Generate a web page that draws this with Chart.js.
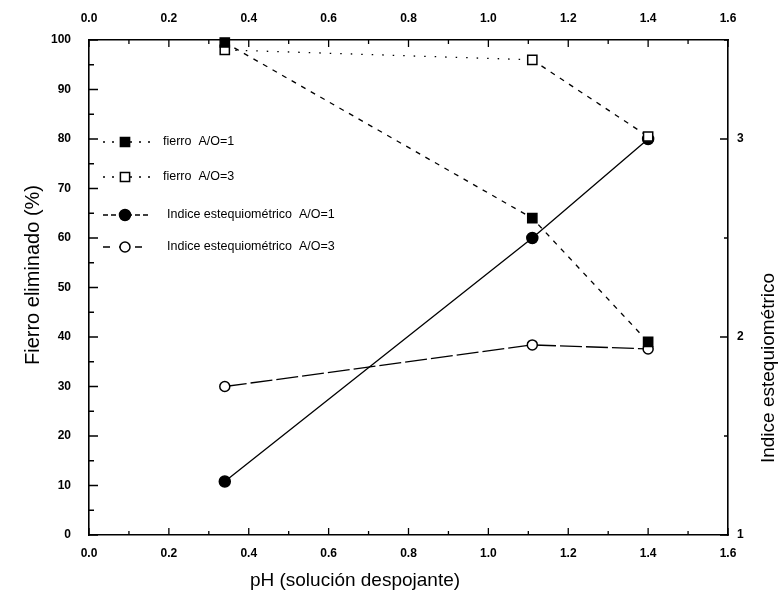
<!DOCTYPE html>
<html lang="es">
<head>
<meta charset="UTF-8">
<title>Fierro eliminado vs pH</title>
<script src="https://cdn.jsdelivr.net/npm/chart.js"></script>
<style>
  body { margin: 0; background: #fff; }
  canvas { display: block; }
</style>
</head>
<body>
<canvas id="phChart" width="782" height="614"></canvas>
<script>
// pH de la solución despojante
const ph = [0.34, 1.11, 1.40];
// fierro eliminado (%)
const fierroAO1 = [99.5, 64, 39];
const fierroAO3 = [98, 96, 80.5];
// índice estequiométrico (eje derecho)
const indiceAO1 = [1.27, 2.5, 3.0];
const indiceAO3 = [1.75, 1.96, 1.94];

const phTicks = [0, 0.2, 0.4, 0.6, 0.8, 1.0, 1.2, 1.4, 1.6];
const fierroTicks = [0, 10, 20, 30, 40, 50, 60, 70, 80, 90, 100];
const indiceTicks = [1, 2, 3];

const tickFont = { family: "'Liberation Sans Narrow', 'Liberation Sans', Arial", size: 12, weight: 'bold' };
const yTitleFont = "20px 'Liberation Sans', Arial";
const y2TitleFont = "19px 'Liberation Sans', Arial";
const xTitleFont = "19px 'Liberation Sans', Arial";
const legendFont = "12.5px 'Liberation Sans Narrow', 'Liberation Sans', Arial";

function pts(ys) {
  return ph.map((x, i) => ({ x: x, y: ys[i] }));
}

function fixedTicks(list) {
  return scale => { scale.ticks = list.map(v => ({ value: v })); };
}

// marcas de escala hacia adentro (mayores y menores)
const innerTicks = {
  id: 'innerTicks',
  afterDraw(chart) {
    const { ctx, chartArea: a, scales } = chart;
    ctx.save();
    ctx.strokeStyle = '#000';
    ctx.lineWidth = 1.3;
    ctx.beginPath();
    for (let i = 0; i <= 16; i++) {
      const v = i / 10;
      const len = i % 2 === 0 ? 7 : 4;
      const px = scales.x.getPixelForValue(v);
      ctx.moveTo(px, a.bottom); ctx.lineTo(px, a.bottom - len);
      const pt = scales.x2.getPixelForValue(v);
      ctx.moveTo(pt, a.top); ctx.lineTo(pt, a.top + len);
    }
    for (let v = 0; v <= 100; v += 5) {
      const len = v % 10 === 0 ? 9 : 5;
      const py = scales.y.getPixelForValue(v);
      ctx.moveTo(a.left, py); ctx.lineTo(a.left + len, py);
    }
    for (let v = 1; v <= 3.5; v += 0.5) {
      const len = Number.isInteger(v) ? 8 : 4;
      const py = scales.y2.getPixelForValue(v);
      ctx.moveTo(a.right, py); ctx.lineTo(a.right - len, py);
    }
    ctx.stroke();
    ctx.restore();
  }
};

// títulos de los ejes
function rotatedText(ctx, text, font, x, y) {
  ctx.save();
  ctx.fillStyle = '#000';
  ctx.font = font;
  ctx.textAlign = 'center';
  ctx.textBaseline = 'middle';
  ctx.translate(x, y);
  ctx.rotate(-Math.PI / 2);
  ctx.fillText(text, 0, 0);
  ctx.restore();
}

const axisTitles = {
  id: 'axisTitles',
  afterDraw(chart) {
    const { ctx, chartArea: a } = chart;
    ctx.save();
    ctx.fillStyle = '#000';
    ctx.font = xTitleFont;
    ctx.textAlign = 'center';
    ctx.textBaseline = 'middle';
    ctx.fillText('pH (solución despojante)', a.left + 266, a.bottom + 46);
    ctx.restore();
    rotatedText(ctx, 'Fierro eliminado (%)', yTitleFont, a.left - 56, a.top + 235);
    rotatedText(ctx, 'Indice estequiométrico', y2TitleFont, a.right + 41, a.top + 328);
  }
};

// leyenda dentro del área de trazado
const innerLegend = {
  id: 'innerLegend',
  afterDatasetsDraw(chart) {
    const { ctx, chartArea: a } = chart;
    const rows = [102, 137, 175, 207];
    chart.data.datasets.forEach((ds, i) => {
      const y = a.top + rows[i];
      const x0 = a.left + 14, xm = a.left + 36, x1 = a.left + 62;
      ctx.save();
      ctx.strokeStyle = '#000';
      ctx.lineWidth = 1.3;
      ctx.setLineDash(ds.legendDash);
      ctx.beginPath();
      ctx.moveTo(x0, y); ctx.lineTo(x1, y);
      ctx.stroke();
      ctx.setLineDash([]);
      ctx.fillStyle = ds.pointBackgroundColor;
      ctx.lineWidth = 1.5;
      ctx.beginPath();
      if (ds.pointStyle === 'rect') {
        const s = ds.pointRadius * Math.SQRT1_2;
        ctx.rect(xm - s, y - s, 2 * s, 2 * s);
      } else {
        ctx.arc(xm, y, ds.pointRadius, 0, Math.PI * 2);
      }
      ctx.fill();
      ctx.stroke();
      ctx.fillStyle = '#000';
      ctx.font = legendFont;
      ctx.textBaseline = 'middle';
      ctx.fillText(ds.label, a.left + (ds.pointStyle === 'rect' ? 74 : 78), y);
      ctx.restore();
    });
  }
};

const common = {
  borderColor: '#000',
  borderWidth: 1.3,
  pointBorderColor: '#000',
  pointBorderWidth: 1.5,
  clip: false,
  tension: 0
};

new Chart(document.getElementById('phChart'), {
  type: 'line',
  data: {
    datasets: [
      Object.assign({}, common, {
        label: 'fierro  A/O=1',
        data: pts(fierroAO1),
        yAxisID: 'y',
        borderDash: [5, 6],
        legendDash: [2, 7],
        pointStyle: 'rect',
        pointRadius: 6.5,
        pointBackgroundColor: '#000'
      }),
      Object.assign({}, common, {
        label: 'fierro  A/O=3',
        data: pts(fierroAO3),
        yAxisID: 'y',
        segment: { borderDash: c => c.p0DataIndex === 0 ? [1.5, 9] : [5, 6] },
        legendDash: [2, 7],
        pointStyle: 'rect',
        pointRadius: 6.5,
        pointBackgroundColor: '#fff'
      }),
      Object.assign({}, common, {
        label: 'Indice estequiométrico  A/O=1',
        data: pts(indiceAO1),
        yAxisID: 'y2',
        borderDash: [],
        legendDash: [5, 3],
        pointStyle: 'circle',
        pointRadius: 5.5,
        pointBackgroundColor: '#000'
      }),
      Object.assign({}, common, {
        label: 'Indice estequiométrico  A/O=3',
        data: pts(indiceAO3),
        yAxisID: 'y2',
        borderDash: [22, 4],
        legendDash: [7, 9],
        pointStyle: 'circle',
        pointRadius: 5,
        pointBackgroundColor: '#fff'
      })
    ]
  },
  options: {
    responsive: false,
    animation: false,
    devicePixelRatio: 1,
    layout: { padding: 0 },
    plugins: { legend: { display: false }, tooltip: { enabled: false } },
    scales: {
      x: {
        type: 'linear', position: 'bottom', min: 0, max: 1.6,
        afterBuildTicks: fixedTicks(phTicks),
        afterFit: s => { s.height = 79; },
        ticks: { font: tickFont, color: '#000', padding: 11, maxRotation: 0, callback: v => v.toFixed(1) },
        grid: { display: false, drawTicks: false },
        border: { color: '#000', width: 1.6 }
      },
      x2: {
        type: 'linear', position: 'top', min: 0, max: 1.6,
        afterBuildTicks: fixedTicks(phTicks),
        afterFit: s => { s.height = 40; },
        ticks: { font: tickFont, color: '#000', padding: 14, maxRotation: 0, callback: v => v.toFixed(1) },
        grid: { display: false, drawTicks: false },
        border: { color: '#000', width: 1.6 }
      },
      y: {
        type: 'linear', position: 'left', min: 0, max: 100,
        afterBuildTicks: fixedTicks(fierroTicks),
        afterFit: s => { s.width = 89; },
        ticks: { font: tickFont, color: '#000', padding: 18 },
        grid: { display: false, drawTicks: false },
        border: { color: '#000', width: 1.6 }
      },
      y2: {
        type: 'linear', position: 'right', min: 1, max: 3.5,
        afterBuildTicks: fixedTicks(indiceTicks),
        afterFit: s => { s.width = 54; },
        ticks: { font: tickFont, color: '#000', padding: 9 },
        grid: { display: false, drawTicks: false },
        border: { color: '#000', width: 1.6 }
      }
    }
  },
  plugins: [innerTicks, axisTitles, innerLegend]
});
</script>
</body>
</html>
